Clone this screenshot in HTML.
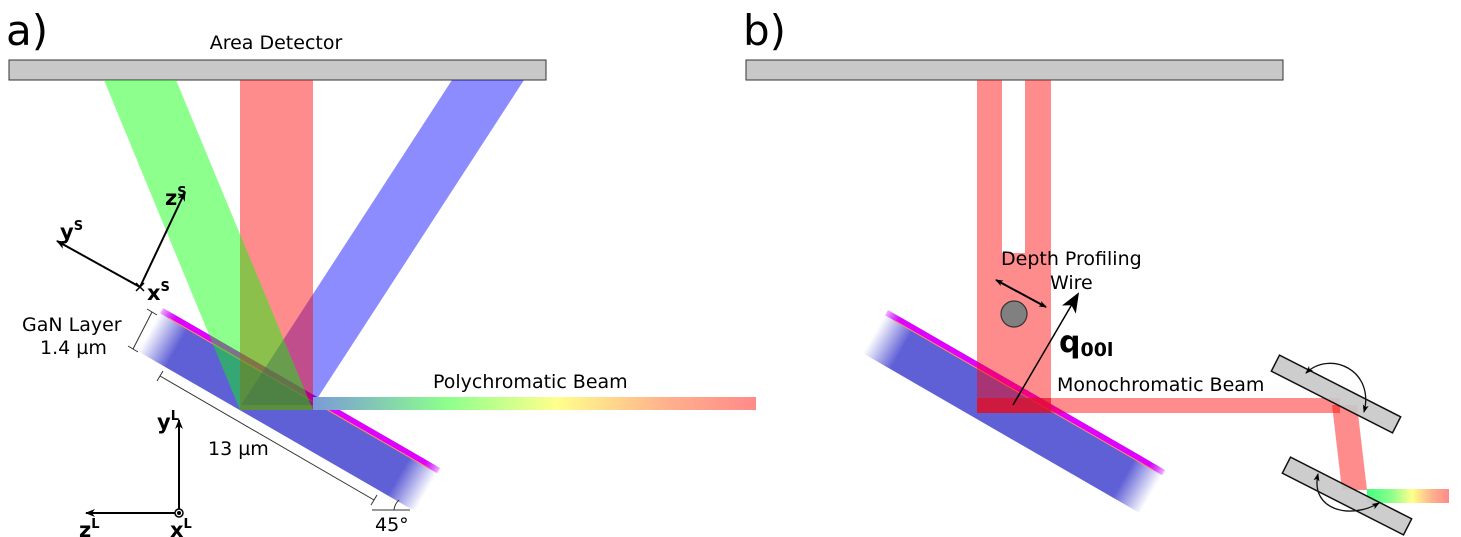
<!DOCTYPE html>
<html><head><meta charset="utf-8">
<style>
html,body{margin:0;padding:0;background:#fff;}
svg{display:block;font-family:"DejaVu Sans","Liberation Sans",sans-serif;}
</style></head>
<body>
<svg width="1461" height="537" viewBox="0 0 1461 537" xmlns="http://www.w3.org/2000/svg">
<defs>
  <linearGradient id="subG" x1="0" x2="1" y1="0" y2="0">
    <stop offset="0" stop-color="#5f5fd6" stop-opacity="0"/>
    <stop offset="0.1" stop-color="#5f5fd6"/>
    <stop offset="0.9" stop-color="#5f5fd6"/>
    <stop offset="1" stop-color="#5f5fd6" stop-opacity="0"/>
  </linearGradient>
  <linearGradient id="magG" x1="0" x2="1" y1="0" y2="0">
    <stop offset="0" stop-color="#e000ff" stop-opacity="0.3"/>
    <stop offset="0.05" stop-color="#e000ff"/>
    <stop offset="0.95" stop-color="#e000ff"/>
    <stop offset="1" stop-color="#e000ff" stop-opacity="0.3"/>
  </linearGradient>
  <linearGradient id="polyG" x1="0" x2="1" y1="0" y2="0">
    <stop offset="0" stop-color="#7a9ad8"/>
    <stop offset="0.3" stop-color="#8cff8c"/>
    <stop offset="0.55" stop-color="#ffff8c"/>
    <stop offset="0.8" stop-color="#ffb08c"/>
    <stop offset="1" stop-color="#ff8a8a"/>
  </linearGradient>
  <linearGradient id="polyG2" x1="0" x2="1" y1="0" y2="0">
    <stop offset="0" stop-color="#40ff80"/>
    <stop offset="0.3" stop-color="#8cff8c"/>
    <stop offset="0.55" stop-color="#ffff8c"/>
    <stop offset="0.8" stop-color="#ffb08c"/>
    <stop offset="1" stop-color="#ff8a8a"/>
  </linearGradient>
  <marker id="ah" markerWidth="10" markerHeight="10" refX="9" refY="5" orient="auto" markerUnits="userSpaceOnUse">
    <path d="M0,1 L10,5 L0,9 L3,5 Z" fill="#000"/>
  </marker>
  <marker id="ahs" markerWidth="8" markerHeight="8" refX="7" refY="4" orient="auto-start-reverse" markerUnits="userSpaceOnUse">
    <path d="M0,1 L8,4 L0,7 L2,4 Z" fill="#000"/>
  </marker>
  <marker id="ahb" markerWidth="20" markerHeight="20" refX="18" refY="10" orient="auto" markerUnits="userSpaceOnUse">
    <path d="M0,2 L20,10 L0,18 L5,10 Z" fill="#000"/>
  </marker>
</defs>

<!-- PANEL A -->
<text x="6" y="45" font-size="42">a)</text>
<text x="276" y="49" font-size="19" text-anchor="middle">Area Detector</text>
<rect x="9" y="60" width="537" height="20" fill="#c8c8c8" stroke="#333" stroke-width="1"/>

<g transform="translate(163,308) rotate(30)">
  <rect x="0" y="0" width="320" height="50" fill="url(#subG)"/>
  <rect x="0" y="0" width="320" height="6" fill="url(#magG)"/>
  <line x1="10" y1="6" x2="310" y2="6" stroke="#ff9060" stroke-width="1"/>
</g>

<polygon points="452,80 524,80 313,405 241,405" fill="#0000ff" opacity="0.45"/>
<rect x="240" y="80" width="73" height="330" fill="#ff0000" opacity="0.45"/>
<polygon points="104,80 176,80 313,410 240,410" fill="#00ff00" opacity="0.45"/>
<rect x="313" y="397" width="443" height="13" fill="url(#polyG)"/>
<text x="433" y="388" font-size="19">Polychromatic Beam</text>

<!-- sample axes -->
<g stroke="#000" stroke-width="2" fill="none">
  <line x1="140" y1="287" x2="57" y2="241" marker-end="url(#ah)"/>
  <line x1="140" y1="287" x2="185" y2="192" marker-end="url(#ah)"/>
  <path d="M136,283 l8,8 M144,283 l-8,8" stroke-width="1.5"/>
</g>
<text x="60" y="239" font-size="21" font-weight="bold">y<tspan font-size="13" dy="-9">S</tspan></text>
<text x="165" y="205" font-size="21" font-weight="bold">z<tspan font-size="13" dy="-9">S</tspan></text>
<text x="147" y="300" font-size="21" font-weight="bold">x<tspan font-size="13" dy="-9">S</tspan></text>

<text x="22" y="331" font-size="19">GaN Layer</text>
<text x="40" y="354" font-size="19">1.4 µm</text>
<g stroke="#333" stroke-width="1">
  <line x1="133" y1="349" x2="152" y2="312"/>
  <line x1="128" y1="346" x2="138" y2="352"/>
  <line x1="147" y1="309" x2="157" y2="315"/>
</g>
<g stroke="#333" stroke-width="1">
  <line x1="160" y1="376" x2="374" y2="500"/>
  <line x1="157" y1="381" x2="163" y2="371"/>
  <line x1="371" y1="505" x2="377" y2="495"/>
</g>
<text x="208" y="455" font-size="19">13 µm</text>

<g stroke="#333" stroke-width="1" fill="none">
  <line x1="372" y1="510" x2="410" y2="510"/>
  <path d="M394,510 A16,16 0 0 1 399,500"/>
</g>
<text x="375" y="531" font-size="19">45°</text>

<g stroke="#000" stroke-width="2" fill="none">
  <line x1="179" y1="513" x2="179" y2="420" marker-end="url(#ah)"/>
  <line x1="179" y1="513" x2="86" y2="513" marker-end="url(#ah)"/>
  <circle cx="179" cy="513" r="4" stroke-width="1.5" fill="#fff"/>
  <circle cx="179" cy="513" r="1" fill="#000"/>
</g>
<text x="157" y="429" font-size="21" font-weight="bold">y<tspan font-size="13" dy="-9">L</tspan></text>
<text x="79" y="537" font-size="21" font-weight="bold">z<tspan font-size="13" dy="-9">L</tspan></text>
<text x="170" y="537" font-size="21" font-weight="bold">x<tspan font-size="13" dy="-9">L</tspan></text>

<!-- PANEL B -->
<text x="743" y="45" font-size="42">b)</text>
<rect x="746" y="60" width="537" height="20" fill="#c8c8c8" stroke="#333" stroke-width="1"/>

<g transform="translate(888,310) rotate(30)">
  <rect x="0" y="0" width="320" height="50" fill="url(#subG)"/>
  <rect x="0" y="0" width="320" height="6" fill="url(#magG)"/>
  <line x1="10" y1="6" x2="310" y2="6" stroke="#ff9060" stroke-width="1"/>
</g>

<g opacity="0.45" fill="#ff0000">
  <path d="M977,80 H1002 V253 H1025 V80 H1051 V413 H977 Z"/>
</g>
<rect x="1051" y="398" width="289" height="15" fill="#ff0000" opacity="0.45"/>
<rect x="977" y="398" width="74" height="15" fill="#e0102a" opacity="0.7"/>
<polygon points="1332,405 1357,405 1367,490 1342,490" fill="#ff0000" opacity="0.45"/>
<rect x="1367" y="489" width="82" height="14" fill="url(#polyG2)"/>

<g transform="translate(1336,394) rotate(27)">
  <rect x="-68" y="-9" width="136" height="18" fill="#c8c8c8" fill-opacity="0.9" stroke="#111" stroke-width="1.5"/>
</g>
<g transform="translate(1347,496) rotate(27)">
  <rect x="-68" y="-9" width="136" height="18" fill="#c8c8c8" fill-opacity="0.9" stroke="#111" stroke-width="1.5"/>
</g>
<path d="M1306,373 C1330,350 1375,370 1364,412" fill="none" stroke="#111" stroke-width="1.3" marker-start="url(#ahs)" marker-end="url(#ahs)"/>
<path d="M1318,474 C1310,510 1350,520 1379,503" fill="none" stroke="#111" stroke-width="1.3" marker-start="url(#ahs)" marker-end="url(#ahs)"/>

<circle cx="1014" cy="314" r="13" fill="#808080" stroke="#333" stroke-width="1.2"/>
<line x1="996" y1="280" x2="1046" y2="307" stroke="#000" stroke-width="2" marker-start="url(#ahs)" marker-end="url(#ahs)"/>
<line x1="1013" y1="405" x2="1078" y2="294" stroke="#000" stroke-width="1.5" marker-end="url(#ahb)"/>
<text x="1059" y="352" font-size="30" font-weight="bold">q<tspan font-size="19" dy="4">00l</tspan></text>
<text x="1001" y="265" font-size="19">Depth Profiling</text>
<text x="1050" y="289" font-size="19">Wire</text>
<text x="1057" y="391" font-size="19">Monochromatic Beam</text>
</svg>
</body></html>
